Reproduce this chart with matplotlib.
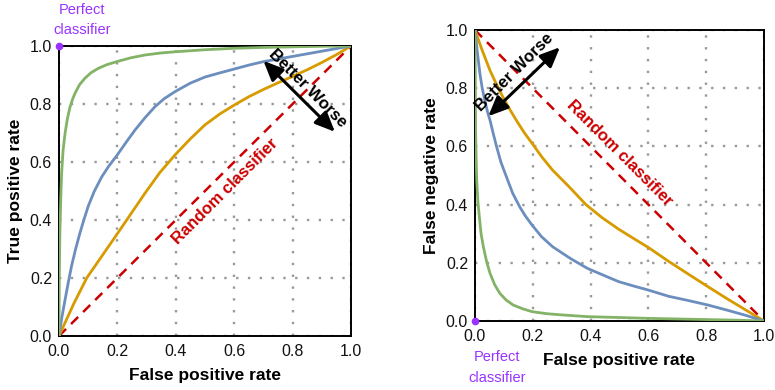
import matplotlib
matplotlib.use("Agg")
import matplotlib.pyplot as plt
import numpy as np

plt.rcParams['font.family'] = ['Liberation Sans', 'DejaVu Sans']

# ROC curves (false positive rate -> true positive rate)
roc_green_x = [0, 0.001, 0.003, 0.006, 0.009, 0.014, 0.021, 0.029, 0.038, 0.046, 0.055, 0.07,
               0.089, 0.11, 0.135, 0.165, 0.198, 0.245, 0.295, 0.35, 0.398, 0.5, 0.598, 0.7,
               0.8, 0.9, 1.0]
roc_green_y = [0, 0.2, 0.35, 0.47, 0.56, 0.64, 0.70, 0.75, 0.79, 0.815, 0.837, 0.866,
               0.889, 0.908, 0.923, 0.936, 0.946, 0.959, 0.969, 0.976, 0.98, 0.987, 0.992, 0.995,
               0.997, 0.999, 1.0]

roc_blue_x = [0, 0.01, 0.021, 0.032, 0.043, 0.057, 0.072, 0.086, 0.1, 0.12, 0.146, 0.17,
              0.198, 0.23, 0.261, 0.295, 0.329, 0.36, 0.398, 0.45, 0.5, 0.55, 0.598, 0.65,
              0.7, 0.75, 0.8, 0.85, 0.9, 0.95, 1.0]
roc_blue_y = [0, 0.065, 0.126, 0.185, 0.241, 0.30, 0.356, 0.403, 0.447, 0.497, 0.548, 0.585,
              0.622, 0.668, 0.711, 0.753, 0.791, 0.818, 0.843, 0.872, 0.893, 0.907, 0.920, 0.934,
              0.946, 0.955, 0.964, 0.973, 0.982, 0.991, 1.0]

roc_orange_x = [0, 0.05, 0.095, 0.15, 0.198, 0.232, 0.295, 0.345, 0.398, 0.45, 0.5, 0.55,
                0.598, 0.65, 0.7, 0.75, 0.8, 0.85, 0.9, 0.95, 1.0]
roc_orange_y = [0, 0.11, 0.2, 0.28, 0.35, 0.40, 0.493, 0.563, 0.625, 0.68, 0.728, 0.765,
                0.795, 0.825, 0.85, 0.873, 0.895, 0.918, 0.943, 0.97, 1.0]

# DET-style curves (false positive rate -> false negative rate)
det_green_x = [0, 0.001, 0.002, 0.004, 0.006, 0.01, 0.015, 0.021, 0.029, 0.04, 0.052, 0.068,
               0.086, 0.108, 0.132, 0.165, 0.198, 0.25, 0.3, 0.389, 0.5, 0.601, 0.7, 0.8,
               0.9, 1.0]
det_green_y = [1.0, 0.85, 0.655, 0.56, 0.484, 0.41, 0.358, 0.30, 0.255, 0.205, 0.164, 0.125,
               0.095, 0.072, 0.055, 0.042, 0.032, 0.025, 0.021, 0.015, 0.012, 0.009, 0.007, 0.005,
               0.003, 0]

det_blue_x = [0, 0.008, 0.017, 0.025, 0.034, 0.043, 0.052, 0.063, 0.075, 0.09, 0.109, 0.13,
              0.155, 0.175, 0.198, 0.23, 0.269, 0.33, 0.389, 0.45, 0.498, 0.55, 0.601, 0.67,
              0.74, 0.806, 0.87, 0.935, 1.0]
det_blue_y = [1.0, 0.925, 0.85, 0.80, 0.758, 0.72, 0.69, 0.645, 0.598, 0.545, 0.495, 0.44,
              0.392, 0.36, 0.329, 0.29, 0.255, 0.215, 0.181, 0.155, 0.135, 0.12, 0.106, 0.085,
              0.07, 0.055, 0.038, 0.02, 0]

det_orange_x = [0, 0.025, 0.052, 0.075, 0.097, 0.12, 0.143, 0.17, 0.198, 0.232, 0.269, 0.326,
                0.384, 0.44, 0.498, 0.55, 0.601, 0.67, 0.74, 0.806, 0.87, 0.935, 1.0]
det_orange_y = [1.0, 0.93, 0.861, 0.812, 0.769, 0.728, 0.69, 0.648, 0.61, 0.563, 0.518, 0.461,
                0.40, 0.355, 0.315, 0.283, 0.252, 0.205, 0.16, 0.118, 0.078, 0.039, 0]

ticks = [0.0, 0.2, 0.4, 0.6, 0.8, 1.0]

GREEN = "#82b366"
BLUE = "#6c8ebf"
ORANGE = "#d79b00"
RED = "#cc0000"
PURPLE = "#9933ff"

fig = plt.figure(figsize=(7.75, 3.9), dpi=100)
ax1 = fig.add_axes([0.0761, 0.1385, 0.3768, 0.7436])
ax2 = fig.add_axes([0.6129, 0.1769, 0.3729, 0.746])


def style_axes(ax):
    ax.set_xlim(0, 1)
    ax.set_ylim(0, 1)
    ax.set_xticks(ticks)
    ax.set_yticks(ticks)
    ax.set_xticklabels([f"{t:.1f}" for t in ticks])
    ax.set_yticklabels([f"{t:.1f}" for t in ticks])
    ax.tick_params(length=0, labelsize=11.5, colors="#111111")
    ax.tick_params(axis="x", pad=6)
    ax.tick_params(axis="y", pad=5)
    ax.grid(True, color="#999999", linewidth=1.7, linestyle=(0, (1, 4)), zorder=0)
    ax.set_axisbelow(True)
    for s in ax.spines.values():
        s.set_linewidth(1.4)
        s.set_color("black")


style_axes(ax1)
style_axes(ax2)

# left: ROC
ax1.plot([0, 1], [0, 1], color=RED, lw=1.8, linestyle=(0, (4, 2.8)), zorder=2)
ax1.plot(roc_orange_x, roc_orange_y, color=ORANGE, lw=2.0, zorder=3)
ax1.plot(roc_blue_x, roc_blue_y, color=BLUE, lw=2.0, zorder=3)
ax1.plot(roc_green_x, roc_green_y, color=GREEN, lw=2.0, zorder=3)
ax1.text(0.57, 0.50, "Random classifier", color=RED, fontsize=12, fontweight="bold",
         rotation=45, rotation_mode="anchor", ha="center", va="center")
ax1.annotate("", xy=(0.70, 0.949), xytext=(0.945, 0.704),
             arrowprops=dict(arrowstyle="<|-|>,head_length=0.8,head_width=0.35",
                             mutation_scale=15, lw=2.2, color="black", shrinkA=0, shrinkB=0))
ax1.text(0.853, 0.855, "Better Worse", fontsize=12, fontweight="bold",
         rotation=-45, rotation_mode="anchor", ha="center", va="center")
ax1.plot([0], [1], "o", color=PURPLE, ms=4.5, clip_on=False, zorder=5)
ax1.text(0.079, 1.09, "Perfect\nclassifier", color=PURPLE, fontsize=10.5,
         ha="center", va="center", linespacing=1.6)
ax1.set_xlabel("False positive rate", fontsize=12.5, fontweight="bold", labelpad=6)
ax1.set_ylabel("True positive rate", fontsize=12.5, fontweight="bold", labelpad=5)

# right: false negative vs false positive
ax2.plot([0, 1], [1, 0], color=RED, lw=1.8, linestyle=(0, (4, 2.8)), zorder=2)
ax2.plot(det_orange_x, det_orange_y, color=ORANGE, lw=2.0, zorder=3)
ax2.plot(det_blue_x, det_blue_y, color=BLUE, lw=2.0, zorder=3)
ax2.plot(det_green_x, det_green_y, color=GREEN, lw=2.0, zorder=3)
ax2.text(0.50, 0.576, "Random classifier", color=RED, fontsize=12, fontweight="bold",
         rotation=-45, rotation_mode="anchor", ha="center", va="center")
ax2.annotate("", xy=(0.046, 0.704), xytext=(0.294, 0.941),
             arrowprops=dict(arrowstyle="<|-|>,head_length=0.8,head_width=0.35",
                             mutation_scale=15, lw=2.2, color="black", shrinkA=0, shrinkB=0))
ax2.text(0.135, 0.856, "Better Worse", fontsize=12, fontweight="bold",
         rotation=45, rotation_mode="anchor", ha="center", va="center")
ax2.plot([0], [0], "o", color=PURPLE, ms=4.5, clip_on=False, zorder=5)
ax2.text(0.075, -0.159, "Perfect\nclassifier", color=PURPLE, fontsize=10.5,
         ha="center", va="center", linespacing=1.6)
ax2.set_xlabel("False positive rate", fontsize=12.5, fontweight="bold", labelpad=6)
ax2.set_ylabel("False negative rate", fontsize=12.5, fontweight="bold", labelpad=5)

fig.savefig("out.png", dpi=100)
